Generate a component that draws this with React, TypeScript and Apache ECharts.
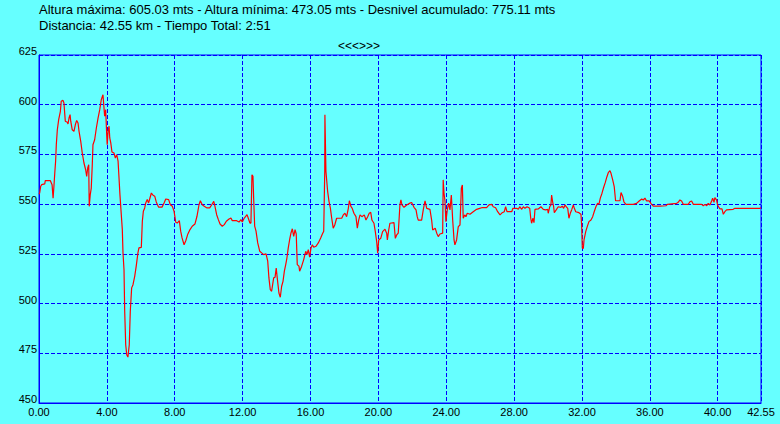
import React, { useEffect, useRef } from "react";
import * as echarts from "echarts";

const headerLine1 = "Altura máxima: 605.03 mts - Altura mínima: 473.05 mts - Desnivel acumulado: 775.11 mts";
const headerLine2 = "Distancia: 42.55 km - Tiempo Total: 2:51";
const navTitle = "<<<>>>";

const yTicks = [450, 475, 500, 525, 550, 575, 600, 625];
const xMax = 42.55;

const distKm = [
  0.00, 0.04, 0.10, 0.16, 0.34, 0.37, 0.67, 0.77, 0.83, 0.88, 0.93, 0.98, 1.02, 1.08, 1.16, 1.26, 1.31, 1.41, 1.47, 1.55,
  1.67, 1.71, 1.77, 1.83, 1.87, 1.96, 2.06, 2.14, 2.22, 2.30, 2.36, 2.46, 2.55, 2.65, 2.75, 2.81, 2.87, 2.93, 2.96, 3.02,
  3.08, 3.14, 3.18, 3.28, 3.38, 3.48, 3.58, 3.67, 3.77, 3.83, 3.87, 3.93, 3.99, 4.02, 4.07, 4.13, 4.17, 4.23, 4.30, 4.42,
  4.50, 4.58, 4.66, 4.71, 4.77, 4.85, 4.91, 4.95, 5.01, 5.05, 5.11, 5.17, 5.24, 5.32, 5.38, 5.46, 5.54, 5.64, 5.73, 5.83,
  5.89, 6.03, 6.09, 6.15, 6.23, 6.29, 6.38, 6.46, 6.54, 6.62, 6.72, 6.82, 6.91, 7.05, 7.25, 7.37, 7.47, 7.64, 7.74, 7.86,
  7.96, 8.06, 8.15, 8.27, 8.35, 8.43, 8.55, 8.65, 8.76, 8.90, 9.03, 9.19, 9.31, 9.43, 9.51, 9.62, 9.74, 9.90, 10.06, 10.18,
  10.30, 10.37, 10.47, 10.57, 10.67, 10.80, 10.92, 11.04, 11.20, 11.31, 11.39, 11.65, 11.79, 11.90, 11.98, 12.10, 12.26, 12.33, 12.43, 12.49,
  12.55, 12.61, 12.65, 12.71, 12.79, 12.89, 13.01, 13.12, 13.24, 13.38, 13.48, 13.55, 13.63, 13.71, 13.83, 13.91, 13.98, 14.04, 14.14, 14.22,
  14.30, 14.38, 14.46, 14.54, 14.61, 14.69, 14.77, 14.85, 14.93, 15.01, 15.09, 15.16, 15.22, 15.32, 15.36, 15.48, 15.60, 15.72, 15.79, 15.87,
  15.95, 16.03, 16.11, 16.19, 16.32, 16.46, 16.60, 16.70, 16.78, 16.84, 16.85, 16.91, 17.01, 17.09, 17.17, 17.25, 17.34, 17.43, 17.54, 17.84,
  17.93, 18.03, 18.13, 18.23, 18.29, 18.39, 18.46, 18.56, 18.68, 18.76, 18.84, 18.92, 19.03, 19.17, 19.27, 19.37, 19.46, 19.55, 19.62, 19.74,
  19.82, 19.90, 19.96, 20.02, 20.14, 20.25, 20.39, 20.49, 20.53, 20.61, 20.68, 20.92, 21.00, 21.08, 21.17, 21.23, 21.27, 21.33, 21.39, 21.51,
  21.67, 21.86, 21.96, 22.10, 22.22, 22.29, 22.35, 22.55, 22.65, 22.75, 22.85, 23.04, 23.14, 23.20, 23.35, 23.44, 23.53, 23.63, 23.79, 23.82,
  23.87, 23.93, 23.98, 24.06, 24.14, 24.22, 24.30, 24.38, 24.46, 24.51, 24.61, 24.71, 24.81, 24.89, 24.95, 25.00, 25.09, 25.16, 25.24, 25.40,
  25.59, 25.79, 25.97, 26.09, 26.38, 26.52, 26.68, 26.77, 26.91, 27.03, 27.17, 27.30, 27.42, 27.50, 27.58, 27.86, 27.93, 28.15, 28.25, 28.33,
  28.45, 28.54, 28.64, 28.76, 28.92, 28.98, 29.03, 29.11, 29.17, 29.23, 29.42, 29.58, 29.72, 29.86, 29.98, 30.01, 30.10, 30.17, 30.21, 30.27,
  30.33, 30.37, 30.48, 30.60, 30.76, 30.84, 30.92, 31.00, 31.07, 31.16, 31.23, 31.31, 31.39, 31.49, 31.55, 31.63, 31.82, 31.94, 31.98, 32.02,
  32.08, 32.12, 32.22, 32.31, 32.41, 32.53, 32.63, 32.72, 32.82, 32.92, 33.00, 33.08, 33.18, 33.28, 33.37, 33.47, 33.55, 33.65, 33.71, 33.81,
  33.90, 33.98, 34.24, 34.30, 34.40, 34.47, 34.59, 35.02, 35.22, 35.37, 35.52, 35.61, 35.71, 35.81, 35.96, 36.06, 36.20, 36.59, 36.95, 37.03,
  37.58, 37.67, 37.77, 37.87, 37.97, 38.26, 38.36, 38.46, 38.56, 39.05, 39.15, 39.25, 39.35, 39.44, 39.54, 39.64, 39.70, 39.78, 39.83, 39.93,
  39.99, 40.05, 40.13, 40.25, 40.33, 40.42, 40.52, 40.91, 41.01, 42.49, 42.55,
];

const altM = [
  555.0, 555.6, 559.0, 559.8, 560.2, 561.8, 561.8, 559.8, 553.0, 559.0, 565.7, 571.7, 579.9, 587.4, 592.5, 596.7, 601.7, 602.2, 600.9, 591.7,
  591.2, 590.3, 593.3, 595.0, 591.7, 587.4, 586.6, 589.9, 592.1, 590.8, 586.6, 581.6, 575.7, 570.7, 567.3, 564.0, 568.2, 569.8, 548.9, 554.8,
  558.1, 569.8, 579.9, 582.4, 588.3, 593.3, 597.5, 602.5, 605.0, 598.4, 594.2, 597.5, 584.9, 579.9, 586.6, 589.2, 583.3, 580.8, 576.2, 575.7,
  573.2, 574.9, 571.6, 564.0, 554.8, 544.7, 537.2, 525.5, 517.0, 496.1, 479.3, 474.3, 473.1, 479.3, 496.1, 507.9, 509.5, 513.7, 518.8, 525.5,
  528.0, 528.3, 541.4, 546.4, 548.1, 550.6, 552.3, 550.6, 553.1, 555.6, 554.5, 554.0, 551.1, 548.5, 548.5, 550.6, 552.6, 552.3, 549.7, 548.9,
  546.4, 540.9, 540.5, 541.7, 536.4, 533.0, 529.6, 531.6, 534.7, 537.2, 538.9, 540.0, 543.9, 549.7, 551.7, 549.7, 548.9, 548.1, 548.1, 549.7,
  551.4, 548.9, 544.7, 542.2, 540.0, 538.9, 539.7, 541.4, 542.5, 543.0, 541.7, 541.7, 541.0, 542.2, 541.0, 543.0, 544.7, 543.0, 540.5, 540.5,
  564.8, 564.0, 553.1, 538.9, 536.4, 530.5, 526.3, 525.5, 524.6, 525.0, 521.3, 512.9, 507.0, 506.2, 512.9, 513.2, 517.9, 512.9, 505.3, 503.2,
  508.7, 511.2, 516.3, 519.6, 522.9, 528.0, 532.1, 535.5, 537.6, 533.8, 537.2, 535.0, 519.6, 518.8, 516.3, 518.8, 522.1, 526.3, 524.6, 527.1,
  523.3, 528.0, 529.6, 528.3, 528.8, 530.5, 533.0, 535.0, 536.4, 566.5, 595.0, 566.5, 556.5, 551.4, 548.1, 542.9, 537.9, 539.5, 542.9, 542.9,
  544.6, 545.4, 543.7, 547.9, 551.7, 548.7, 547.9, 545.4, 543.7, 537.9, 542.0, 544.6, 543.7, 544.6, 542.0, 543.7, 545.4, 545.9, 542.0, 540.4,
  536.2, 531.2, 525.3, 532.0, 532.8, 536.2, 537.4, 535.4, 532.0, 537.0, 540.4, 540.7, 532.8, 534.5, 535.4, 543.7, 549.6, 552.1, 549.6, 548.4,
  549.6, 550.5, 550.8, 548.4, 547.1, 543.7, 542.0, 542.0, 547.4, 551.7, 547.9, 547.4, 542.0, 537.0, 537.9, 535.4, 533.7, 535.0, 535.4, 562.2,
  555.5, 551.2, 541.2, 547.1, 550.5, 547.1, 554.6, 542.0, 532.0, 529.5, 532.0, 538.7, 539.5, 558.0, 559.6, 542.9, 544.6, 543.7, 545.4, 544.9,
  546.2, 547.4, 547.9, 548.2, 548.2, 549.6, 549.9, 548.7, 548.2, 546.2, 544.6, 545.7, 546.2, 548.7, 546.2, 546.2, 547.9, 547.9, 547.4, 548.7,
  547.4, 548.7, 547.9, 548.7, 547.9, 542.9, 540.4, 542.9, 540.7, 547.4, 547.6, 548.7, 547.4, 547.1, 547.4, 545.4, 548.7, 549.6, 554.6, 551.2,
  548.7, 545.7, 547.1, 548.7, 548.4, 549.0, 547.9, 549.6, 548.7, 547.9, 542.9, 545.4, 547.1, 549.6, 547.9, 546.2, 545.7, 544.9, 539.5, 527.8,
  527.8, 532.0, 536.2, 538.7, 541.2, 542.0, 543.7, 546.2, 548.7, 550.4, 550.0, 553.0, 555.5, 558.5, 560.8, 563.8, 565.8, 566.8, 565.5, 562.2,
  558.8, 551.7, 551.7, 555.8, 553.8, 551.2, 549.9, 549.9, 550.4, 551.6, 552.6, 552.1, 553.0, 551.6, 551.6, 550.4, 549.0, 549.0, 549.2, 549.9,
  550.4, 550.9, 552.1, 551.6, 549.9, 549.9, 551.2, 551.6, 549.9, 549.9, 549.2, 549.9, 549.2, 550.4, 549.6, 551.6, 553.0, 550.9, 553.3, 552.1,
  549.6, 548.7, 547.6, 547.6, 544.9, 546.2, 547.1, 547.4, 547.9, 547.9, 548.2,
];

const BLUE = "#0000ff";
const BG = "#66ffff";
const FONT = "'Liberation Sans', Arial, sans-serif";

export default function App() {
  const ref = useRef<HTMLDivElement>(null);

  useEffect(() => {
    document.body.style.margin = "0";
    const chart = echarts.init(ref.current!, null, { renderer: "svg" });
    const data = distKm.map((d, i) => [d, altM[i]]);
    chart.setOption({
      animation: false,
      backgroundColor: BG,
      textStyle: { fontFamily: FONT },
      grid: {
        left: 39,
        right: 19,
        top: 55,
        bottom: 21,
        show: true,
        borderColor: BLUE,
        borderWidth: 1,
        backgroundColor: "transparent",
      },
      graphic: [
        {
          type: "text",
          left: 39,
          top: 3,
          style: { text: headerLine1, fill: "#000", font: `13px ${FONT}` },
        },
        {
          type: "text",
          left: 39,
          top: 19,
          style: { text: headerLine2, fill: "#000", font: `13px ${FONT}` },
        },
        {
          type: "text",
          x: 359,
          y: 46,
          style: { text: navTitle, fill: "#000", font: `12px ${FONT}`, align: "center", verticalAlign: "middle" },
        },
      ],
      xAxis: {
        type: "value",
        min: 0,
        max: xMax,
        interval: 4,
        axisLine: { show: true, lineStyle: { color: BLUE, width: 1 } },
        axisTick: { show: false },
        splitLine: { show: true, lineStyle: { color: BLUE, type: [4, 2], width: 1 } },
        axisLabel: {
          color: "#000",
          fontSize: 11,
          fontFamily: FONT,
          margin: 3,
          showMaxLabel: true,
          showMinLabel: true,
          formatter: (v: number) => v.toFixed(2),
        },
      },
      yAxis: {
        type: "value",
        min: yTicks[0],
        max: yTicks[yTicks.length - 1],
        interval: 25,
        axisLine: { show: true, lineStyle: { color: BLUE, width: 1 } },
        axisTick: { show: false },
        splitLine: { show: true, lineStyle: { color: BLUE, type: [4, 2], width: 1 } },
        axisLabel: {
          color: "#000",
          fontSize: 11,
          fontFamily: FONT,
          margin: 2,
          verticalAlign: "bottom",
          lineHeight: 8,
          formatter: (v: number) => String(v),
        },
      },
      series: [
        {
          type: "line",
          data,
          showSymbol: false,
          symbol: "none",
          lineStyle: { color: "#ff0000", width: 1.2 },
          z: 5,
        },
      ],
    });
    return () => chart.dispose();
  }, []);

  return (
    <div
      ref={ref}
      style={{ position: "fixed", left: 0, top: 0, width: 780, height: 424, background: BG }}
    />
  );
}
